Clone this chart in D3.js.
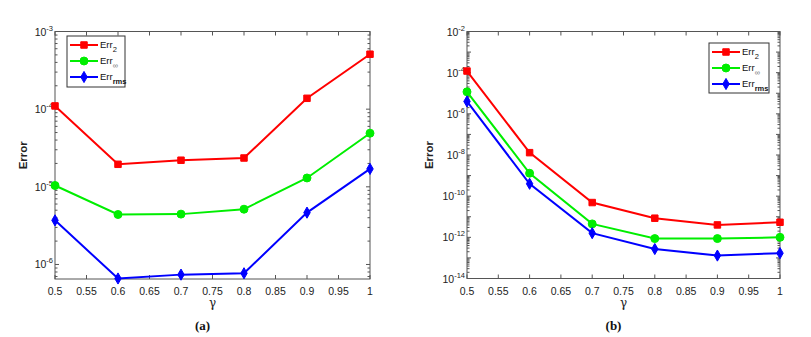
<!DOCTYPE html>
<html><head><meta charset="utf-8">
<script src="https://cdn.jsdelivr.net/npm/d3@7"></script>
<style>body{margin:0;background:#fff}svg{display:block}</style>
</head><body><svg id="c" width="811" height="337"></svg>
<script>
const gammas = [0.5, 0.6, 0.7, 0.8, 0.9, 1.0];
const xTicks = [0.5,0.55,0.6,0.65,0.7,0.75,0.8,0.85,0.9,0.95,1];
// Panel (a)
const aErr2   = [1.1e-4, 1.95e-5, 2.2e-5, 2.35e-5, 1.38e-4, 5.1e-4];
const aErrInf = [1.04e-5, 4.4e-6, 4.45e-6, 5.15e-6, 1.3e-5, 4.9e-5];
const aErrRms = [3.7e-6, 6.6e-7, 7.4e-7, 7.7e-7, 4.65e-6, 1.7e-5];
const aYExp = [-6, -5, -4, -3];
// Panel (b)
const bErr2   = [1.2e-4, 1.3e-8, 4.9e-11, 8.5e-12, 4.0e-12, 5.4e-12];
const bErrInf = [1.17e-5, 1.3e-9, 4.5e-12, 8.7e-13, 8.7e-13, 1.0e-12];
const bErrRms = [4.0e-6, 4.0e-10, 1.6e-12, 2.7e-13, 1.3e-13, 1.7e-13];
const bYExp = [-14, -12, -10, -8, -6, -4, -2];

const seriesNames = ["2", "∞", "rms"];
const colors = ["#ff0000", "#00ee00", "#0000ff"];
const symbols = [d3.symbolSquare, d3.symbolCircle, d3.symbolDiamond];
const symSizes = [42, 50, 36];

const svg = d3.select("#c");
const font = "'Liberation Sans', Arial, sans-serif";

function panel(opt){
  const {x0,x1,y0,y1,yDomain,yExp,series,legend,tag} = opt;
  const x = d3.scaleLinear().domain([0.5,1]).range([x0,x1]);
  const y = d3.scaleLog().domain(yDomain).range([y1,y0]);
  const g = svg.append("g");
  const axc = "#555";
  g.append("rect").attr("x",x0).attr("y",y0).attr("width",x1-x0).attr("height",y1-y0)
    .attr("fill","none").attr("stroke",axc).attr("stroke-width",1);
  xTicks.forEach(t=>{
    const xx = x(t);
    g.append("line").attr("x1",xx).attr("x2",xx).attr("y1",y1).attr("y2",y1-4).attr("stroke",axc);
    g.append("line").attr("x1",xx).attr("x2",xx).attr("y1",y0).attr("y2",y0+4).attr("stroke",axc);
    g.append("text").attr("x",xx).attr("y",y1+16).attr("text-anchor","middle")
      .attr("font-family",font).attr("font-size",10.5).attr("fill","#222").text(d3.format("")(t));
  });
  const lo = Math.floor(Math.log10(yDomain[0])), hi = Math.ceil(Math.log10(yDomain[1]));
  for(let e=lo;e<=hi;e++){
    for(let m=1;m<=9;m++){
      const v = m*Math.pow(10,e);
      if(v<yDomain[0]*0.999||v>yDomain[1]*1.001) continue;
      const yy = y(v);
      const len = m===1?4:2.5;
      g.append("line").attr("x1",x0).attr("x2",x0+len).attr("y1",yy).attr("y2",yy).attr("stroke",axc);
      g.append("line").attr("x1",x1).attr("x2",x1-len).attr("y1",yy).attr("y2",yy).attr("stroke",axc);
    }
  }
  yExp.forEach(e=>{
    const yy = y(Math.pow(10,e));
    const t = g.append("text").attr("x",x0-2).attr("y",yy+4).attr("text-anchor","end")
      .attr("font-family",font).attr("font-size",10.5).attr("fill","#222");
    t.append("tspan").text("10");
    t.append("tspan").attr("dy",-5).attr("font-size",7.5).text(String(e));
  });
  const line = d3.line().x((d,i)=>x(gammas[i])).y(d=>y(d));
  const sym = k => d3.symbol().type(symbols[k]).size(symSizes[k])();
  series.forEach((s,k)=>{
    g.append("path").attr("d",line(s)).attr("fill","none").attr("stroke",colors[k]).attr("stroke-width",2);
    s.forEach((v,i)=>{
      g.append("path").attr("d",sym(k))
        .attr("transform",`translate(${x(gammas[i])},${y(v)})`)
        .attr("fill",colors[k]).attr("stroke",colors[k]).attr("stroke-width",1);
    });
  });
  const [lx,ly,lw,lh] = legend;
  g.append("rect").attr("x",lx).attr("y",ly).attr("width",lw).attr("height",lh)
    .attr("fill","#fff").attr("stroke","#333").attr("stroke-width",1);
  seriesNames.forEach((n,k)=>{
    const yy = ly+9+k*16;
    g.append("line").attr("x1",lx+3).attr("x2",lx+31).attr("y1",yy).attr("y2",yy)
      .attr("stroke",colors[k]).attr("stroke-width",2);
    g.append("path").attr("d",sym(k))
      .attr("transform",`translate(${lx+17},${yy})`)
      .attr("fill",colors[k]).attr("stroke",colors[k]);
    const t = g.append("text").attr("x",lx+33).attr("y",yy+3).attr("font-family",font)
      .attr("font-size",9.5).attr("fill","#111");
    t.append("tspan").text("Err");
    t.append("tspan").attr("dy",4).attr("font-size",7.5).attr("font-weight",k===2?"bold":"normal")
      .attr("fill",k===1?"#777":"#111").text(n);
  });
  g.append("text").attr("transform",`translate(${opt.ylabX},${(y0+y1)/2}) rotate(-90)`)
    .attr("text-anchor","middle").attr("font-family",font).attr("font-size",11.5)
    .attr("font-weight","bold").attr("fill","#222").text("Error");
  g.append("text").attr("x",(x0+x1)/2).attr("y",307).attr("text-anchor","middle")
    .attr("font-family","'DejaVu Serif', serif").attr("font-size",12).attr("fill","#222").text("γ");
  g.append("text").attr("x",(x0+x1)/2-10).attr("y",330).attr("text-anchor","middle")
    .attr("font-family","'Liberation Serif', 'Times New Roman', serif").attr("font-size",13)
    .attr("font-weight","bold").attr("fill","#111").text(tag);
}

panel({x0:55,x1:370,y0:31.5,y1:279,yDomain:[6.5e-7,1e-3],yExp:aYExp,
  series:[aErr2,aErrInf,aErrRms],legend:[67,36,58,51],tag:"(a)",ylabX:27});
panel({x0:467,x1:780,y0:31.5,y1:278.5,yDomain:[1e-14,1e-2],yExp:bYExp,
  series:[bErr2,bErrInf,bErrRms],legend:[709,43,60,50],tag:"(b)",ylabX:433});
</script></body></html>
